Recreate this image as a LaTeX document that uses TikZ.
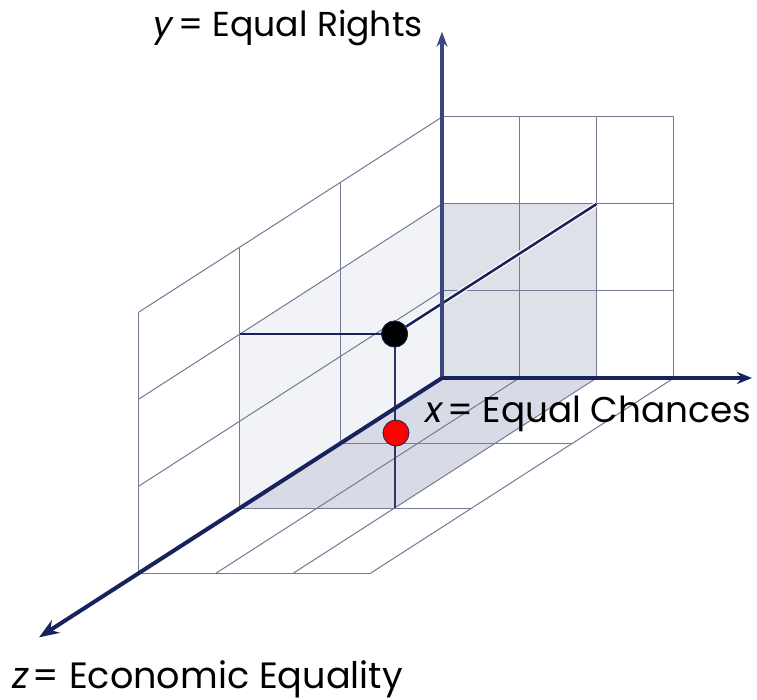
\documentclass[tikz,border=0pt]{standalone}
\usepackage{fontspec}
\setmainfont{Poppins}
\usetikzlibrary{arrows.meta}
\definecolor{navy}{HTML}{18225C}
\definecolor{gridc}{HTML}{737997}
\definecolor{shadeA}{HTML}{DFE1E9}
\definecolor{shadeB}{HTML}{D8DBE5}
\definecolor{shadeC}{HTML}{F2F3F7}
\definecolor{yaxisc}{HTML}{3C4680}
\definecolor{vlinec}{HTML}{2E3560}
\tikzset{
  gridline/.style={draw=gridc, line width=1bp},
  axisline/.style={draw=navy, line width=3.5bp, -{Stealth[length=15bp,width=12bp]}},
  dotline/.style={draw=navy, line width=2.5bp},
  dotnode/.style={circle, draw=navy, line width=0.8bp, minimum size=26bp, inner sep=0pt},
  lab/.style={inner sep=0pt, text=black}
}
\begin{document}
\begin{tikzpicture}[x={(77.3bp,0bp)}, y={(0bp,87bp)}, z={(-101bp,-65bp)}]
\useasboundingbox (-442bp,-322bp) rectangle (315bp,378bp);
\fill[white] (-442bp,-322bp) rectangle (315bp,378bp);
% shaded faces
\fill[shadeC] (0,0,0) -- (0,2,0) -- (0,2,2) -- (0,0,2) -- cycle;
\fill[shadeA] (0,0,0) -- (2,0,0) -- (2,2,0) -- (0,2,0) -- cycle;
\fill[shadeB] (0,0,0) -- (2,0,0) -- (2,0,2) -- (0,0,2) -- cycle;
% grids
\foreach \i in {1,2,3} {
  \draw[gridline] (\i,0,0) -- (\i,3,0);
  \draw[gridline] (0,\i,0) -- (3,\i,0);
  \draw[gridline] (0,\i,0) -- (0,\i,3);
  \draw[gridline] (0,0,\i) -- (0,3,\i);
  \draw[gridline] (\i,0,0) -- (\i,0,3);
  \draw[gridline] (0,0,\i) -- (3,0,\i);
}
% named points
\coordinate (O) at (0,0,0);
\coordinate (X) at (4.01,0,0);
\coordinate (Y) at (0,3.98,0);
\coordinate (Z) at (0,0,3.99);
\coordinate (B) at (2,2,0);
\coordinate (L) at (0,2,2);
\coordinate (F) at (2,0,2);
\node[dotnode, fill=black] (P) at (2,2,2) {};
% lines from the point
\draw[white, line width=5bp] (P) -- (B);
\draw[dotline] (P) -- (B);
\draw[dotline] (P) -- (L);
\draw[draw=vlinec, line width=2bp] (P) -- (F);
% axes
\draw[axisline, draw=yaxisc, line width=3.5bp, -{Stealth[length=15bp,width=11bp]}] (O) -- (Y);
\draw[axisline] (O) -- (X);
\draw[axisline, line width=4bp, -{Stealth[length=20bp,width=15bp]}] (O) -- (Z);
% points
\node[dotnode, fill=black] (P2) at (P) {};
\node[dotnode, fill=red] (R) at (-46bp,-55bp) {};
% labels
\node[lab, font=\fontsize{34.6bp}{38bp}\selectfont, anchor=base east] (ly) at (-19bp,341bp) {\textit{y}\kern4bp= Equal Rights};
\node[lab, font=\fontsize{35.8bp}{40bp}\selectfont, anchor=base west] (lx) at (-17bp,-44bp) {\textit{x}\kern4bp= Equal Chances};
\node[lab, font=\fontsize{36.6bp}{40bp}\selectfont, anchor=base west] (lz) at (-430bp,-310bp) {\textit{z}\kern4bp= Economic Equality};
\end{tikzpicture}
\end{document}
